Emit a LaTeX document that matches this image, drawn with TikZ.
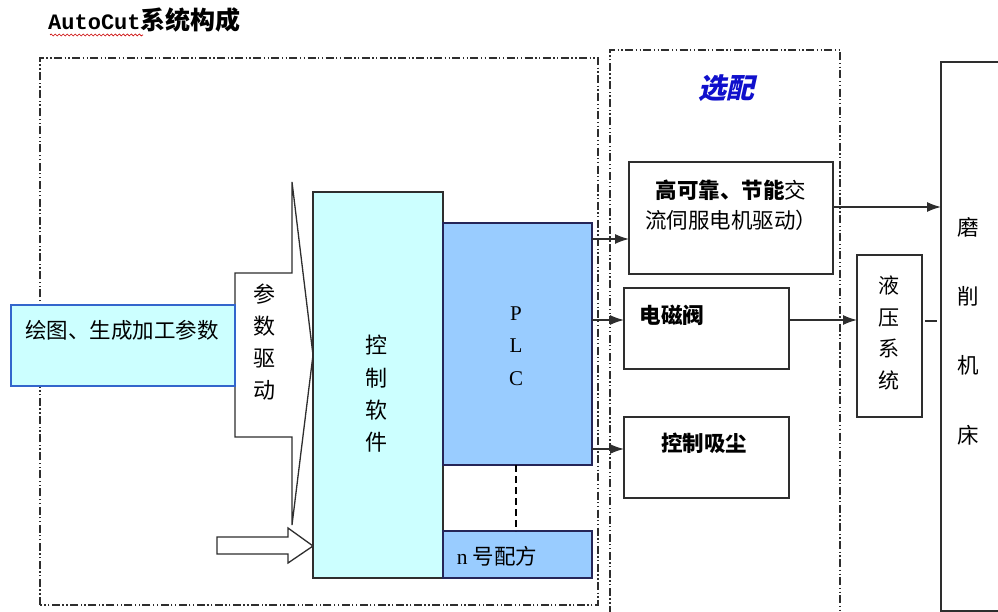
\documentclass[tikz,border=0pt]{standalone}
\usepackage{fontspec}
\setmainfont{Noto Sans CJK SC}
\newfontfamily\cjkbi{Noto Sans CJK SC}[FakeSlant=0.22]
\newfontfamily\serifL{Liberation Serif}
\newfontfamily\monoL{Liberation Mono}
\usetikzlibrary{arrows.meta,decorations.pathmorphing,calc}
\definecolor{cyanfill}{HTML}{CCFFFF}
\definecolor{plcfill}{HTML}{99CCFF}
\definecolor{bluebd}{HTML}{3366CC}
\definecolor{linegray}{HTML}{2E2E2E}
\definecolor{optblue}{HTML}{1010CC}
\tikzset{
  boxline/.style={draw=linegray, line width=1.6pt, inner sep=0pt, outer sep=0pt},
  ddbox/.style={draw=linegray, line width=1.4pt,
    dash pattern=on 8pt off 2.5pt on 1.3pt off 2.5pt on 1.3pt off 2.5pt},
  arr/.style={draw=linegray, line width=1.5pt, -{Latex[length=14pt,width=10pt]}},
  txt/.style={inner sep=0pt, font=\fontsize{21.5pt}{26pt}\selectfont},
  vtxt/.style={inner sep=0pt, align=center},
  shapeline/.style={draw=linegray, line width=1.3pt, fill=white, line join=miter}
}
\begin{document}
\begin{tikzpicture}[x=1pt,y=-1pt]
\useasboundingbox (0,0) rectangle (998,612);
\fill[white] (0,0) rectangle (998,612);

% title
\node[anchor=west, inner sep=0pt] (title) at (48,20)
  {{\monoL\bfseries\fontsize{22pt}{26pt}\selectfont AutoCut}{\bfseries\fontsize{25pt}{28pt}\selectfont 系统构成}};
\draw[red!80!black, line width=0.7pt, decorate, decoration={snake, amplitude=1pt, segment length=4pt}]
  (50,35) -- (143,35);

% dash-dot-dot frames
\draw[ddbox] (40,605) -- (40,58) -- (598,58) -- (598,605) -- cycle;
\draw[ddbox] (610,614) -- (610,50) -- (840,50) -- (840,614);

% big arrow shape (parameter drive)
\draw[shapeline] (235,273) -- (292,273) -- (292,182) -- (313,355) -- (292,525)
  -- (292,437) -- (235,437) -- cycle;
% small hollow arrow
\draw[shapeline] (217,537) -- (288,537) -- (288,528) -- (313,546) -- (288,563)
  -- (288,554) -- (217,554) -- cycle;

% boxes
\node[boxline, draw=bluebd, line width=1.4pt, fill=cyanfill, minimum width=224pt, minimum height=81pt] (drawbox) at (123,345.5) {};
\node[boxline, fill=cyanfill, minimum width=130pt, minimum height=386pt] (ctrl) at (378,385) {};
\node[boxline, draw=linegray!80!blue, fill=plcfill, minimum width=149pt, minimum height=242pt] (plc) at (517.5,344) {};
\node[boxline, draw=linegray!80!blue, fill=plcfill, minimum width=149pt, minimum height=47pt] (recipe) at (517.5,554.5) {};
\node[boxline, fill=white, minimum width=204pt, minimum height=112pt] (servo) at (731,218) {};
\node[boxline, fill=white, minimum width=165pt, minimum height=81pt] (valve) at (706.5,328.5) {};
\node[boxline, fill=white, minimum width=165pt, minimum height=81pt] (dust) at (706.5,457.5) {};
\node[boxline, fill=white, minimum width=65pt, minimum height=162pt] (hyd) at (889.5,336) {};
\node[boxline, fill=white, minimum width=80pt, minimum height=549pt] (machine) at (981,336.5) {};

% texts
\node[txt] (tdraw) at (122,330) {绘图、生成加工参数};
\node[vtxt, font=\fontsize{22pt}{32pt}\selectfont] (tparam) at (264,342) {参\\数\\驱\\动};
\node[vtxt, font=\fontsize{22pt}{32.3pt}\selectfont] (tctrl) at (376,394) {控\\制\\软\\件};
\node[vtxt, font=\serifL\fontsize{21pt}{32.5pt}\selectfont] (tplc) at (516,346) {P\\L\\C};
\node[txt] (trecipe) at (497,556) {{\serifL n} 号配方};
\node[inner sep=0pt, text=optblue, font=\cjkbi\bfseries\fontsize{28pt}{30pt}\selectfont] (topt) at (726,88) {选配};
\node[vtxt, font=\fontsize{21.5pt}{30pt}\selectfont] (tservo) at (731,205) {{\bfseries 高可靠、节能}交\\流伺服电机驱动）};
\node[txt, font=\bfseries\fontsize{21.5pt}{26pt}\selectfont] (tvalve) at (672,315) {电磁阀};
\node[txt, font=\bfseries\fontsize{21.5pt}{26pt}\selectfont] (tdust) at (704,443) {控制吸尘};
\node[vtxt, font=\fontsize{21pt}{31.7pt}\selectfont] (thyd) at (889,333) {液\\压\\系\\统};
\node[vtxt, font=\fontsize{21.5pt}{69.3pt}\selectfont] (tmach) at (968,331) {磨\\削\\机\\床};

% connectors
\draw[arr] ([yshift=105pt]plc.east) -- ([yshift=-21pt]servo.west);
\draw[arr] ([yshift=24pt]plc.east) -- ([yshift=8.5pt]valve.west);
\draw[arr] ([yshift=-105pt]plc.east) -- ([yshift=8.5pt]dust.west);
\draw[arr] ([yshift=11pt]servo.east) -- ([yshift=129.5pt]machine.west);
\draw[arr] ([yshift=8.5pt]valve.east) -- ([yshift=16pt]hyd.west);
\draw[draw=linegray, line width=1.4pt] ([xshift=3pt,yshift=15pt]hyd.east) -- ([xshift=-4pt,yshift=15.5pt]machine.west);
\draw[draw=black, line width=2pt, dash pattern=on 7pt off 4pt] ([xshift=-1.5pt]plc.south) -- ([xshift=-1.5pt]recipe.north);
\end{tikzpicture}
\end{document}
